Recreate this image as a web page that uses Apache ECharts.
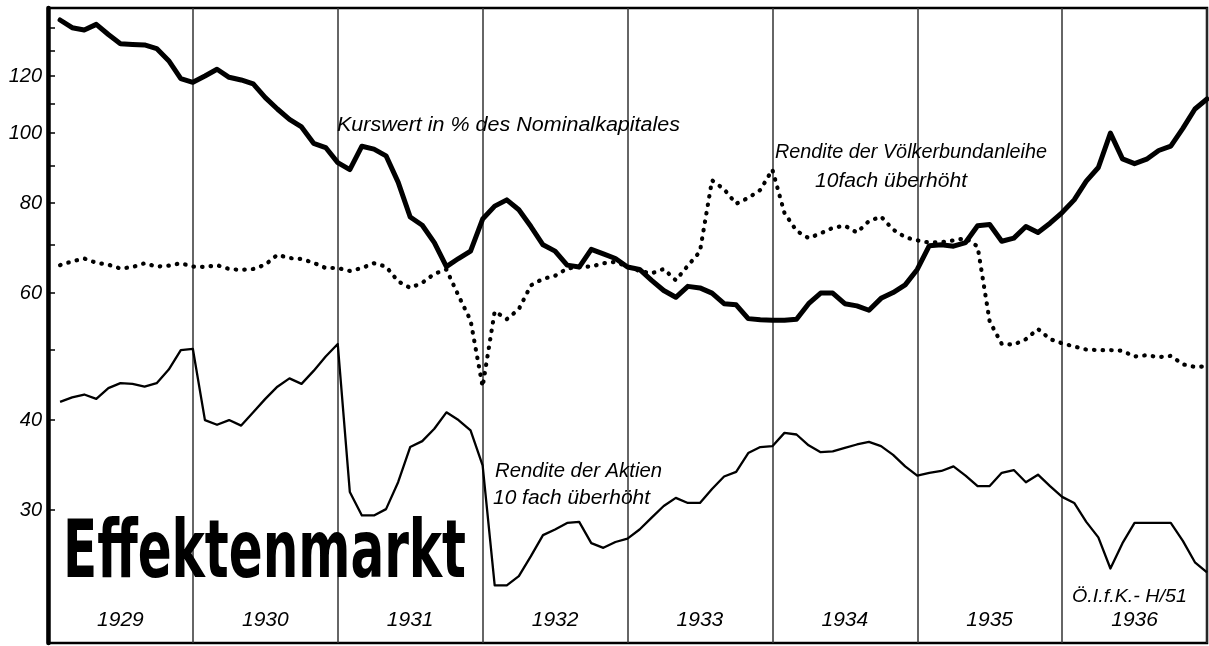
<!DOCTYPE html>
<html><head><meta charset="utf-8">
<script src="https://cdn.jsdelivr.net/npm/echarts@6/dist/echarts.min.js"></script>
<style>html,body{margin:0;padding:0;background:#fff}#c{width:1209px;height:646px}</style>
</head><body><div id="c"></div>
<script>
// ---- data (monthly, Jan 1929 .. Dec 1936) ----
const years = ['1929','1930','1931','1932','1933','1934','1935','1936'];
const kurswert = [
 143.5,140,139,141.5,137,133,132.7,132.5,131,126,119,117.6,
 120,122.6,119.5,118.5,117,112,108,104.5,102,96.8,95.5,91,
 89,95.9,95,93,85.5,76.5,74.5,70.5,65.3,67,68.6,76,
 79.2,80.8,78.3,74.2,70,68.6,65.6,65.2,69,68,67,65.2,
 64.7,62.5,60.5,59.2,61.3,61,60,58,57.8,55.3,55.1,55.0,
 55.0,55.2,58,60,60,58,57.6,56.8,59,60.1,61.6,64.7,
 69.8,70,69.7,70.5,74.4,74.7,70.8,71.5,74.2,72.8,75,77.6,
 80.8,85.8,89.6,100,92.1,90.7,92,94.6,95.9,101.5,108,111.5
];
const aktien = [
 42.4,43.0,43.4,42.8,44.3,45.0,44.9,44.5,45.0,47.0,50.0,50.2,
 40.0,39.4,40.0,39.3,41.0,42.8,44.5,45.7,44.9,46.8,49.0,51.0,
 31.8,29.5,29.5,30.1,32.8,36.7,37.4,38.9,41.0,40.0,38.7,34.6,
 23.6,23.6,24.3,25.9,27.7,28.2,28.8,28.9,27.0,26.6,27.1,27.4,
 28.2,29.3,30.4,31.2,30.7,30.7,32.1,33.4,33.9,36.0,36.7,36.8,
 38.4,38.2,36.9,36.1,36.2,36.6,37.0,37.3,36.8,35.8,34.5,33.5,
 33.8,34.0,34.5,33.5,32.4,32.4,33.8,34.1,32.8,33.6,32.4,31.3,
 30.7,28.9,27.5,24.9,27.0,28.8,28.8,28.8,28.8,27.2,25.4,24.6
];
const voelker = [
 65.6,66.4,67.0,66.1,65.7,64.9,65.2,66.0,65.3,65.5,66.0,65.3,
 65.2,65.6,64.8,64.6,64.8,65.7,67.8,67.1,66.9,66.1,65.0,65.0,
 64.4,65.0,66.0,65.3,62.3,61.0,62.0,63.8,64.7,59.5,55.0,44.5,
 56.6,55.2,57.0,61.5,62.8,63.4,64.9,65.2,65.3,66.0,66.3,65.3,
 64.4,63.9,64.8,62.5,65.5,68.5,86.0,83.6,79.8,81.3,83.4,89.0,
 77.5,73.2,71.5,72.6,73.9,74.4,72.8,75.5,76.6,73.5,71.7,71.0,
 70.5,70.6,71.0,71.5,69.6,54.8,51.0,50.9,51.8,53.5,51.8,51.1,
 50.6,50.1,50.0,50.0,49.9,49.0,49.2,48.9,49.1,47.8,47.4,47.5
];
const yTickValues = [30,40,50,60,70,80,90,100,110,120,130,140];
const yLabelValues = [30,40,60,80,100,120];
const texts = {
  title: 'Effektenmarkt',
  kurs: 'Kurswert in % des Nominalkapitales',
  voelk1: 'Rendite der Völkerbundanleihe',
  voelk2: '10fach überhöht',
  akt1: 'Rendite der Aktien',
  akt2: '10 fach überhöht',
  source: 'Ö.I.f.K.- H/51'
};

// ---- helpers ----
const toXY = arr => arr.map((v, i) => [i + 1, v]);
const yearCenters = years.map((y, k) => 12 * k + 6);
const ctx = document.createElement('canvas').getContext('2d');
function fitText(str, x, y, width, font) {
  ctx.font = font;
  const w = ctx.measureText(str).width;
  return {
    type: 'text', x: x, y: y, scaleX: width / w, z: 100,
    style: { text: str, font: font, fill: '#000', align: 'left', verticalAlign: 'middle' }
  };
}
const ital = s => 'italic ' + s + 'px "Liberation Sans", "DejaVu Sans", sans-serif';

const chart = echarts.init(document.getElementById('c'), null, { renderer: 'canvas' });
const option = {
  animation: false,
  backgroundColor: '#fff',
  grid: { left: 48, right: 2, top: 8, bottom: 3, show: true, borderColor: '#000', borderWidth: 2.5 },
  xAxis: {
    type: 'value', min: 0, max: 96, interval: 12,
    axisLine: { show: false, onZero: false },
    axisTick: { show: false },
    splitLine: { show: true, lineStyle: { color: '#333', width: 1.5 } },
    axisLabel: {
      show: true, inside: true, margin: 12,
      customValues: yearCenters,
      formatter: v => years[Math.round((v - 6) / 12)],
      fontStyle: 'italic', fontSize: 21, fontFamily: 'Liberation Sans', color: '#000'
    }
  },
  yAxis: {
    type: 'log', min: 19.63, max: 149.1,
    axisLine: { show: true, onZero: false, lineStyle: { color: '#000', width: 4.5 } },
    axisTick: { show: true, inside: true, length: 7, customValues: yTickValues, lineStyle: { color: '#000', width: 1.5 } },
    axisLabel: { customValues: yLabelValues, fontStyle: 'italic', fontSize: 20, fontFamily: 'Liberation Sans', color: '#000', margin: 6 },
    splitLine: { show: false },
    minorTick: { show: false }
  },
  series: [
    { name: 'Völkerbundanleihe', type: 'line', data: toXY(voelker), showSymbol: false, symbol: 'none',
      lineStyle: { color: '#000', width: 4.2, type: [0.5, 8.1], cap: 'round', join: 'round' }, z: 3 },
    { name: 'Aktien', type: 'line', data: toXY(aktien), showSymbol: false, symbol: 'none',
      lineStyle: { color: '#000', width: 2.3, join: 'round' }, z: 4 },
    { name: 'Kurswert', type: 'line', data: toXY(kurswert), showSymbol: false, symbol: 'none',
      lineStyle: { color: '#000', width: 5, join: 'round', cap: 'round' }, z: 5 }
  ],
  graphic: [
    fitText(texts.title, 63, 556, 403, 'bold 80px "DejaVu Sans Condensed", "DejaVu Sans", sans-serif'),
    fitText(texts.kurs, 337, 125, 343, ital(20)),
    fitText(texts.voelk1, 775, 152, 272, ital(20)),
    fitText(texts.voelk2, 815, 181, 152, ital(20)),
    fitText(texts.akt1, 495, 471, 167, ital(20)),
    fitText(texts.akt2, 493, 498, 157, ital(20)),
    fitText(texts.source, 1072, 597, 115, ital(19))
  ]
};
chart.setOption(option);
</script>
</body></html>
